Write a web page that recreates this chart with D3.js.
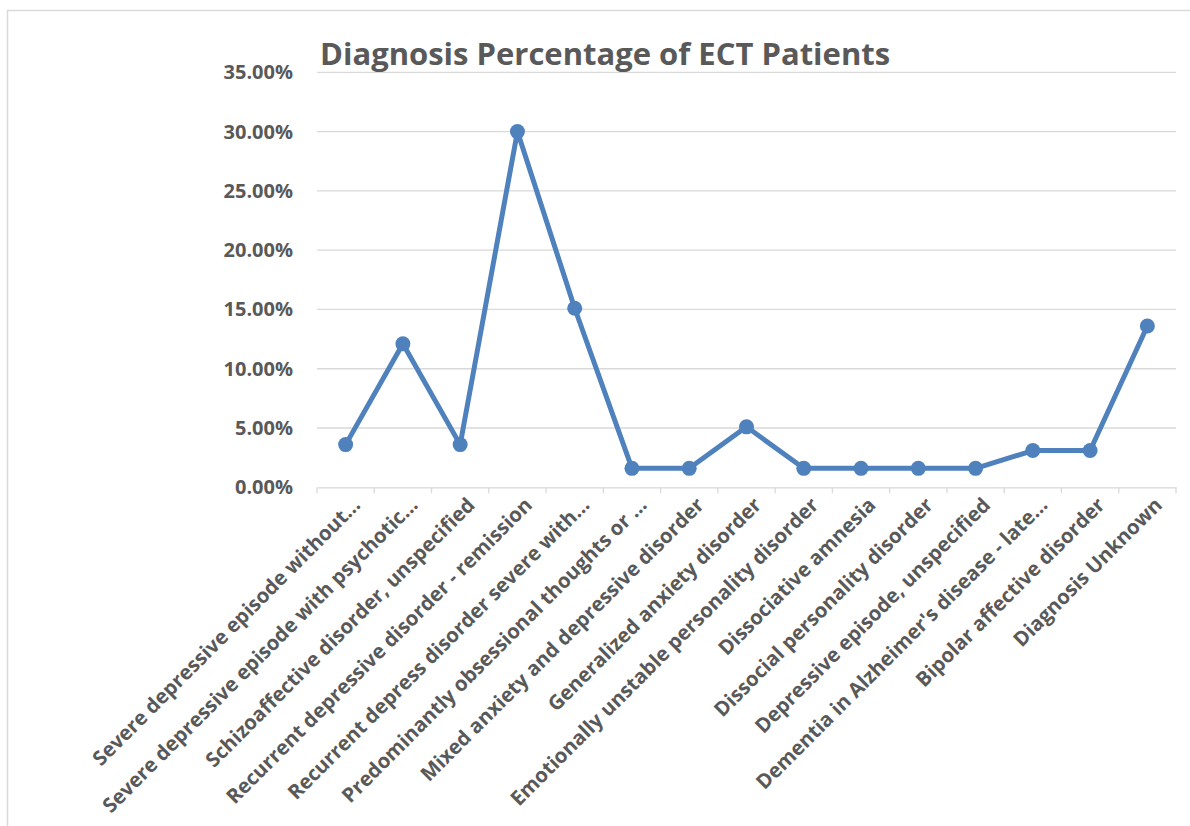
<!DOCTYPE html>
<html><head><meta charset="utf-8">
<script src="https://cdn.jsdelivr.net/npm/d3@7"></script>
<style>body{margin:0;background:#fff;} svg{display:block;}</style>
</head><body>
<script>
const categories = [
  "Severe depressive episode without…",
  "Severe depressive episode with psychotic…",
  "Schizoaffective disorder, unspecified",
  "Recurrent depressive disorder - remission",
  "Recurrent depress disorder severe with…",
  "Predominantly obsessional thoughts or …",
  "Mixed anxiety and depressive disorder",
  "Generalized anxiety disorder",
  "Emotionally unstable personality disorder",
  "Dissociative amnesia",
  "Dissocial personality disorder",
  "Depressive episode, unspecified",
  "Dementia in Alzheimer's disease - late…",
  "Bipolar affective disorder",
  "Diagnosis Unknown"
];
const values = [3.6, 12.1, 3.6, 30, 15.1, 1.6, 1.6, 5.1, 1.6, 1.6, 1.6, 1.6, 3.1, 3.1, 13.6];
const yTicks = [0, 5, 10, 15, 20, 25, 30, 35];
const title = "Diagnosis Percentage of ECT Patients";

const W = 1190, H = 826;
const svg = d3.select("body").append("svg").attr("width", W).attr("height", H);
const font = "'Open Sans', sans-serif";
const grey = "#595959";

svg.append("rect").attr("x", 7.5).attr("y", 10.5).attr("width", 1300).attr("height", 1000)
  .attr("fill", "none").attr("stroke", "#d9d9d9").attr("stroke-width", 1.5);

const m = {left: 317, right: 1176, top: 72.3, bottom: 487.3};
const x = d3.scaleBand().domain(categories).range([m.left, m.right]).padding(0);
const y = d3.scaleLinear().domain([0, 35]).range([m.bottom, m.top]);

// gridlines
svg.append("g").selectAll("line").data(yTicks.filter(d => d > 0)).join("line")
  .attr("x1", m.left).attr("x2", m.right)
  .attr("y1", d => y(d)).attr("y2", d => y(d))
  .attr("stroke", "#d9d9d9").attr("stroke-width", 1.3);

// y labels
svg.append("g").selectAll("text").data(yTicks).join("text")
  .attr("x", 293).attr("y", d => y(d)).attr("dy", "0.35em")
  .attr("text-anchor", "end").attr("font-family", font).attr("font-weight", "bold")
  .attr("font-size", 20).attr("fill", grey)
  .text(d => d.toFixed(2) + "%");

// x axis
const xAxis = d3.axisBottom(x).tickSize(0).tickFormat("");
const gx = svg.append("g").attr("transform", `translate(0,${m.bottom})`).call(xAxis);
gx.select(".domain").attr("stroke", "#d9d9d9").attr("stroke-width", 1.3);
const bounds = categories.map(c => x(c)).concat([m.right]);
svg.append("g").selectAll("line").data(bounds).join("line")
  .attr("x1", d => d).attr("x2", d => d)
  .attr("y1", m.bottom).attr("y2", m.bottom + 6)
  .attr("stroke", "#d9d9d9").attr("stroke-width", 1.3);

// x labels
svg.append("g").selectAll("text").data(categories).join("text")
  .attr("transform", d => `translate(${x(d) + x.bandwidth() / 2 + 16},${m.bottom + 19}) rotate(-45)`)
  .attr("text-anchor", "end").attr("font-family", font).attr("font-weight", "bold")
  .attr("font-size", 20.3).attr("fill", grey)
  .text(d => d);

// line
const cx = d => x(d) + x.bandwidth() / 2;
const line = d3.line().x((d, i) => cx(categories[i])).y(d => y(d));
svg.append("path").datum(values).attr("d", line)
  .attr("fill", "none").attr("stroke", "#4f81bd").attr("stroke-width", 5)
  .attr("stroke-linejoin", "round");
svg.append("g").selectAll("circle").data(values).join("circle")
  .attr("cx", (d, i) => cx(categories[i])).attr("cy", d => y(d)).attr("r", 7.5)
  .attr("fill", "#4f81bd");

svg.append("text").attr("x", 320).attr("y", 65)
  .attr("font-family", font).attr("font-weight", "bold").attr("font-size", 31)
  .attr("fill", grey).text(title);
</script>
</body></html>
